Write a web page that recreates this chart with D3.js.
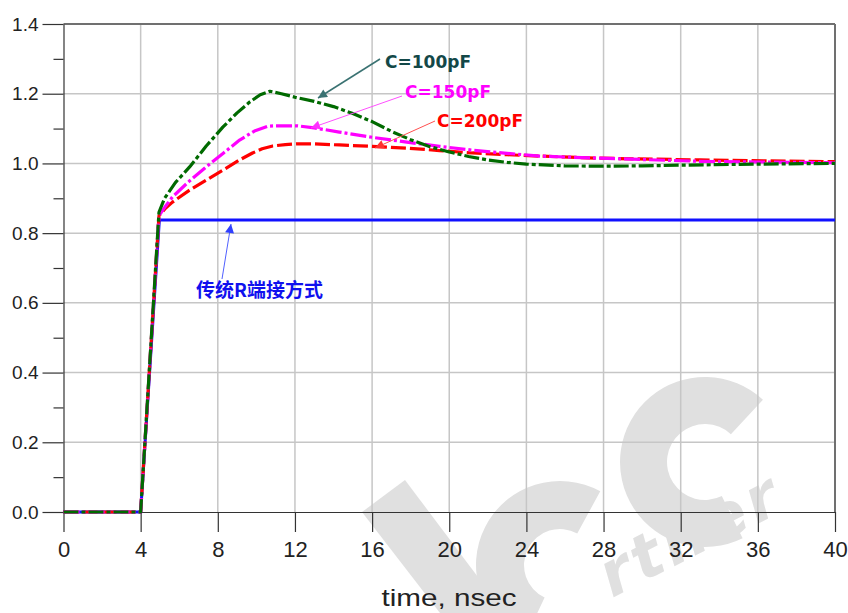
<!DOCTYPE html>
<html>
<head>
<meta charset="utf-8">
<script src="https://cdn.jsdelivr.net/npm/d3@7"></script>
<style>
  html, body { margin: 0; padding: 0; background: #fff; }
  svg { display: block; }
</style>
</head>
<body>
<svg id="chart" width="848" height="613"></svg>
<script>
// ---------- data ----------
const xTicks = [0, 4, 8, 12, 16, 20, 24, 28, 32, 36, 40];
const yTicks = [0.0, 0.2, 0.4, 0.6, 0.8, 1.0, 1.2, 1.4];
const yMinorTicks = [0.1, 0.3, 0.5, 0.7, 0.9, 1.1, 1.3];

const timeBlue = [0, 4, 4.97, 40];
const valBlue  = [0, 0, 0.838, 0.838];

const time100 = [0, 4, 4.95, 5.24, 5.8, 6.54, 7.4, 8.26, 9, 9.65, 10.2, 10.7, 11.3, 12, 13, 14, 15, 16, 17, 18, 19, 20, 21, 22, 23, 24, 26, 28, 30, 32, 36, 40];
const val100  = [0, 0, 0.86, 0.90, 0.945, 0.99, 1.05, 1.104, 1.145, 1.176, 1.197, 1.207, 1.2, 1.19, 1.178, 1.163, 1.143, 1.12, 1.092, 1.068, 1.048, 1.033, 1.02, 1.01, 1.003, 0.998, 0.993, 0.992, 0.993, 0.995, 0.998, 1.0];

const time150 = [0, 4, 4.95, 5.3, 5.65, 6.5, 7.4, 8.3, 9.13, 9.9, 10.6, 11, 12.1, 13, 14.3, 16, 17.8, 19.5, 21.2, 23, 24.7, 27.8, 33, 40];
const val150  = [0, 0, 0.85, 0.878, 0.904, 0.948, 0.99, 1.03, 1.067, 1.093, 1.107, 1.108, 1.108, 1.102, 1.09, 1.075, 1.061, 1.049, 1.038, 1.029, 1.021, 1.015, 1.006, 1.002];

const time200 = [0, 4, 4.95, 5.3, 5.65, 6.5, 7.4, 8.3, 9.13, 9.8, 10.3, 10.85, 11.5, 12.1, 13, 14.3, 16, 17.8, 19.5, 21.2, 23, 24.7, 27.8, 33, 40];
const val200  = [0, 0, 0.85, 0.872, 0.889, 0.922, 0.952, 0.982, 1.01, 1.03, 1.042, 1.05, 1.054, 1.056, 1.056, 1.053, 1.049, 1.044, 1.037, 1.030, 1.025, 1.021, 1.015, 1.01, 1.005];

const labels = ["传统R端接方式", "C=100pF", "C=150pF", "C=200pF"];
const xTitle = "time, nsec";
const watermarkText = "rtner";

// ---------- layout ----------
const svg = d3.select("#chart");
const x = d3.scaleLinear().domain([0, 40]).range([63.5, 835]);
const y = d3.scaleLinear().domain([0, 1.4]).range([512, 24]);

// ---------- watermark (approximate, drawn behind) ----------
const wm = svg.append("g").attr("fill", "#e0e0e0");
wm.append("path").attr("d", "M362,512 L405,480 L505,613 L440,613 Z");
wm.append("path").attr("transform", "translate(560,565)")
  .attr("d", d3.arc()({ innerRadius: 36, outerRadius: 84, startAngle: -2.7, endAngle: 0.5 }));
wm.append("path").attr("transform", "translate(705,462)")
  .attr("d", d3.arc()({ innerRadius: 38, outerRadius: 85, startAngle: -3.6, endAngle: 0.75 }));
wm.append("text").attr("transform", "translate(612,598) rotate(-27)")
  .attr("font-family", "DejaVu Sans").attr("font-weight", "bold").attr("font-style", "italic")
  .attr("font-size", 62).attr("letter-spacing", 4).text(watermarkText);

// grid
const grid = svg.append("g");
grid.selectAll(".vg").data(xTicks.filter(d => d > 0 && d < 40)).join("line")
  .attr("x1", d => x(d)).attr("x2", d => x(d))
  .attr("y1", y(1.4)).attr("y2", y(0))
  .attr("stroke", "#c6c6c6").attr("stroke-width", 1.5);
grid.selectAll(".hg").data(yTicks.filter(d => d > 0 && d < 1.4)).join("line")
  .attr("x1", x(0)).attr("x2", x(40))
  .attr("y1", d => y(d)).attr("y2", d => y(d))
  .attr("stroke", "#c6c6c6").attr("stroke-width", 1.5);

// frame top/right
svg.append("line").attr("x1", x(0)).attr("x2", x(40)).attr("y1", y(1.4)).attr("y2", y(1.4))
  .attr("stroke", "#707070").attr("stroke-width", 2);
svg.append("line").attr("x1", x(40)).attr("x2", x(40)).attr("y1", y(1.4)).attr("y2", y(0))
  .attr("stroke", "#707070").attr("stroke-width", 2);

// axes
const yAxis = svg.append("g").attr("transform", `translate(${x(0)},0)`)
  .call(d3.axisLeft(y).tickValues(yTicks).tickSize(21).tickSizeOuter(0).tickPadding(4).tickFormat(d3.format(".1f")));
const yMinor = svg.append("g").attr("transform", `translate(${x(0)},0)`)
  .call(d3.axisLeft(y).tickValues(yMinorTicks).tickSize(10).tickSizeOuter(0).tickFormat(""));
yMinor.select(".domain").remove();
const xAxis = svg.append("g").attr("transform", `translate(0,${y(0)})`)
  .call(d3.axisBottom(x).tickValues(xTicks).tickSize(20).tickSizeOuter(0).tickPadding(9).tickFormat(d3.format("d")));

[yAxis, yMinor, xAxis].forEach(g => {
  g.selectAll("line").attr("stroke", "#333").attr("stroke-width", 1.2);
  g.selectAll(".domain").attr("stroke", "#333").attr("stroke-width", 1.2);
});
yAxis.selectAll("text").attr("font-family", "Liberation Sans, Arial, sans-serif").attr("font-size", 19).attr("fill", "#222");
xAxis.selectAll("text").attr("font-family", "Liberation Sans, Arial, sans-serif").attr("font-size", 22).attr("fill", "#222");

svg.append("text").attr("x", 449).attr("y", 606).attr("text-anchor", "middle")
  .attr("font-family", "Liberation Sans, Arial, sans-serif").attr("font-size", 24).attr("fill", "#222")
  .attr("textLength", 135).attr("lengthAdjust", "spacingAndGlyphs")
  .text(xTitle);

// ---------- series ----------
const line = d3.line().x(d => x(d[0])).y(d => y(d[1]));
const zip = (a, b) => a.map((t, i) => [t, b[i]]);

svg.append("path").datum(zip(timeBlue, valBlue)).attr("d", line)
  .attr("fill", "none").attr("stroke", "#1010ff").attr("stroke-width", 3);
svg.append("path").datum(zip(time200, val200)).attr("d", line)
  .attr("fill", "none").attr("stroke", "#ff0000").attr("stroke-width", 3.2)
  .attr("stroke-linejoin", "round").attr("stroke-dasharray", "15,4");
svg.append("path").datum(zip(time150, val150)).attr("d", line)
  .attr("fill", "none").attr("stroke", "#ff00ff").attr("stroke-width", 3.2)
  .attr("stroke-linejoin", "round").attr("stroke-dasharray", "16,3,3,3");
svg.append("path").datum(zip(time100, val100)).attr("d", line)
  .attr("fill", "none").attr("stroke", "#006a00").attr("stroke-width", 3.2)
  .attr("stroke-linejoin", "round").attr("stroke-dasharray", "15,3,4,3");

// ---------- annotations ----------
const defs = svg.append("defs");
function marker(id, color) {
  defs.append("marker").attr("id", id).attr("viewBox", "0 0 10 10").attr("refX", 10).attr("refY", 5)
    .attr("markerWidth", 12).attr("markerHeight", 9).attr("markerUnits", "userSpaceOnUse")
    .attr("orient", "auto")
    .append("path").attr("d", "M0,0 L10,5 L0,10 Z").attr("fill", color);
}
marker("mTeal", "#3a7272");
marker("mMag", "#ff30ff");
marker("mRed", "#ff3030");
marker("mBlue", "#3040ff");

const ann = [
  { text: labels[1], tx: 385, ty: 68, color: "#134848", x1: 380, y1: 59, x2: 318, y2: 98, ac: "#3a7272", m: "mTeal", w: 1.5, font: "DejaVu Sans", fs: 17 },
  { text: labels[2], tx: 405, ty: 98, color: "#ff00ff", x1: 402, y1: 96, x2: 311, y2: 128, ac: "#ff50ff", m: "mMag", w: 1, font: "DejaVu Sans", fs: 17 },
  { text: labels[3], tx: 437, ty: 127, color: "#ff0000", x1: 435, y1: 121, x2: 375, y2: 148, ac: "#ff5050", m: "mRed", w: 1, font: "DejaVu Sans", fs: 17 },
  { text: labels[0], tx: 196, ty: 297, color: "#1010ee", x1: 222, y1: 279, x2: 231, y2: 224, ac: "#5060ff", m: "mBlue", w: 1, font: "Noto Sans CJK SC", fs: 19 }
];
ann.forEach(a => {
  svg.append("line").attr("x1", a.x1).attr("y1", a.y1).attr("x2", a.x2).attr("y2", a.y2)
    .attr("stroke", a.ac).attr("stroke-width", a.w).attr("marker-end", `url(#${a.m})`);
  svg.append("text").attr("x", a.tx).attr("y", a.ty)
    .attr("font-family", a.font).attr("font-weight", "bold").attr("font-size", a.fs)
    .attr("fill", a.color).text(a.text);
});
</script>
</body>
</html>
